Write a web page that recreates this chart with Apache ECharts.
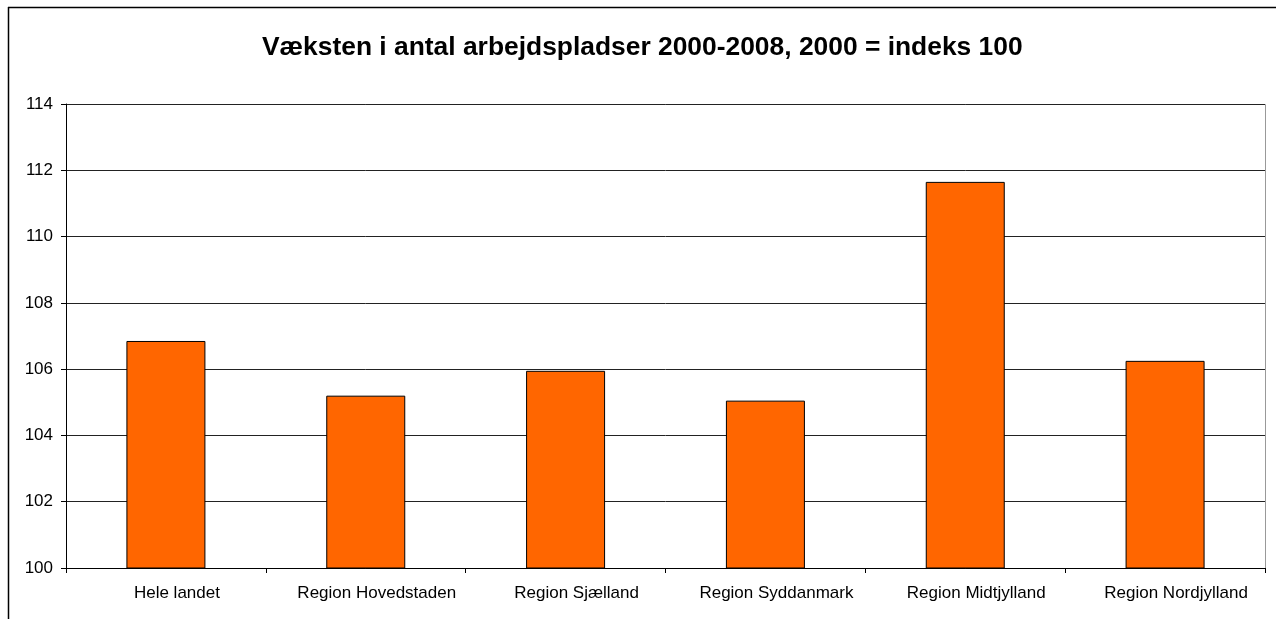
<!DOCTYPE html>
<html>
<head>
<meta charset="utf-8">
<script src="https://cdn.jsdelivr.net/npm/echarts@6/dist/echarts.min.js"></script>
<style>
html, body { margin: 0; padding: 0; background: #fff; }
#chart { width: 1276px; height: 619px; }
</style>
</head>
<body>
<div id="chart"></div>
<script>
var titleText = 'Væksten i antal arbejdspladser 2000-2008, 2000 = indeks 100';
var categories = ['Hele landet', 'Region Hovedstaden', 'Region Sjælland', 'Region Syddanmark', 'Region Midtjylland', 'Region Nordjylland'];
var indexValues = [106.85, 105.2, 105.95, 105.05, 111.65, 106.25];
var yTicks = [100, 102, 104, 106, 108, 110, 112, 114];

var chart = echarts.init(document.getElementById('chart'));
var option = {
    animation: false,
    backgroundColor: '#fff',
    textStyle: { fontFamily: 'Liberation Sans, Arial, sans-serif' },
    title: {
        text: titleText,
        left: 257,
        top: 30,
        textStyle: {
            fontFamily: 'Liberation Sans, Arial, sans-serif',
            fontSize: 26.4,
            fontWeight: 'bold',
            color: '#000'
        }
    },
    graphic: [
        { type: 'line', shape: { x1: 8, y1: 7.5, x2: 1276, y2: 7.5 }, style: { stroke: '#000', lineWidth: 1.5 } },
        { type: 'line', shape: { x1: 8.5, y1: 7, x2: 8.5, y2: 619 }, style: { stroke: '#000', lineWidth: 1.5 } },
        { type: 'line', shape: { x1: 66, y1: 104.5, x2: 1265.5, y2: 104.5 }, style: { stroke: '#999', lineWidth: 1 } },
        { type: 'line', shape: { x1: 1265.5, y1: 104.5, x2: 1265.5, y2: 568 }, style: { stroke: '#999', lineWidth: 1 } }
    ],
    grid: { left: 66, right: 11, top: 104, bottom: 51 },
    xAxis: {
        type: 'category',
        data: categories,
        axisLine: { show: true, lineStyle: { color: '#000', width: 1 } },
        axisTick: { show: true, alignWithLabel: false, length: 5, lineStyle: { color: '#000' } },
        axisLabel: { color: '#000', fontSize: 17, margin: 17, interval: 0, padding: [0, 0, 0, 22] }
    },
    yAxis: {
        type: 'value',
        min: yTicks[0],
        max: yTicks[yTicks.length - 1],
        interval: 2,
        axisLine: { show: true, lineStyle: { color: '#000', width: 1 } },
        axisTick: { show: true, length: 5, lineStyle: { color: '#000' } },
        axisLabel: { color: '#000', fontSize: 17, margin: 13 },
        splitLine: { show: true, lineStyle: { color: '#222', width: 1 } }
    },
    series: [{
        type: 'bar',
        data: indexValues,
        barWidth: 79,
        itemStyle: {
            color: '#FF6600',
            borderColor: '#000',
            borderWidth: 1
        }
    }]
};
chart.setOption(option);
</script>
</body>
</html>
